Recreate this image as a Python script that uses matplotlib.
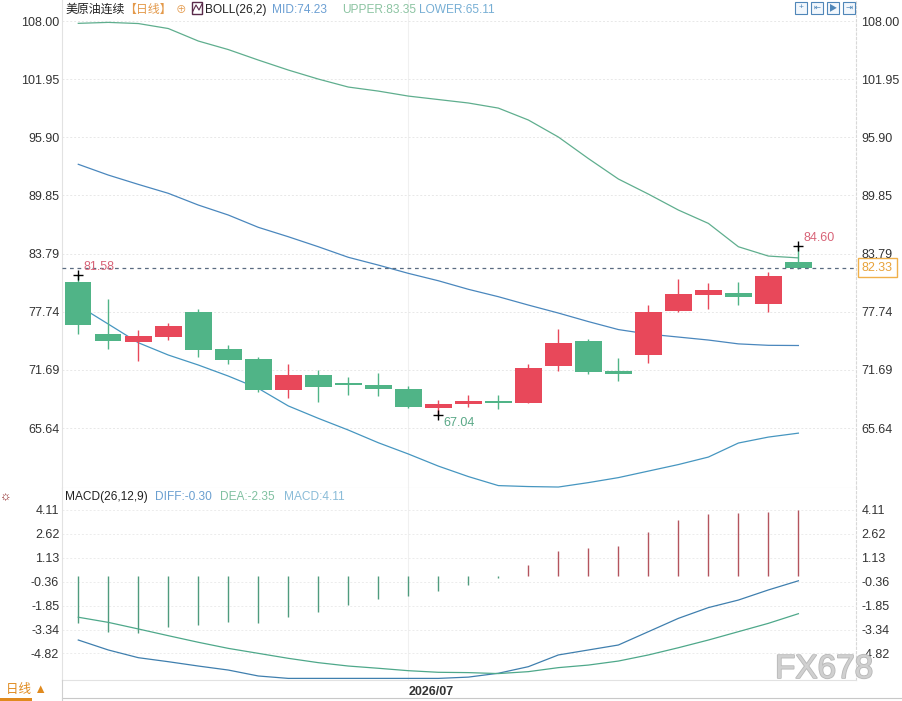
import matplotlib
matplotlib.use("Agg")
import matplotlib.pyplot as plt
from matplotlib.patches import Rectangle
from matplotlib.lines import Line2D
import matplotlib.patheffects as pe
import numpy as np
import pandas as pd

plt.rcParams['font.family'] = ['Liberation Sans', 'Noto Sans CJK SC', 'DejaVu Sans']

# ---- data ----
dates = pd.bdate_range('2026-06-16', periods=25)

opens = [80.84, 75.42, 74.62, 75.14, 77.71, 73.86, 72.82, 69.63, 71.16, 70.22, 70.11, 69.70, 67.75,
         68.17, 68.33, 68.27, 72.12, 74.69, 71.57, 73.24, 77.85, 79.48, 79.69, 78.58, 82.92]
closes = [76.39, 74.73, 75.21, 76.26, 73.79, 72.75, 69.63, 71.16, 69.94, 70.16, 69.73, 67.86, 68.14,
          68.45, 68.29, 71.92, 74.45, 71.50, 71.29, 77.71, 79.59, 80.00, 79.31, 81.46, 82.33]
highs = [81.58, 79.07, 75.84, 76.60, 77.99, 74.25, 73.03, 72.27, 71.71, 70.95, 71.36, 70.01, 68.52,
         69.07, 69.07, 72.27, 75.94, 74.93, 72.96, 78.41, 81.15, 80.76, 80.80, 81.91, 84.60]
lows = [75.42, 73.83, 72.64, 74.80, 73.06, 72.33, 69.42, 68.73, 68.35, 69.07, 68.97, 67.72, 67.04,
        67.86, 67.62, 68.20, 71.60, 71.26, 70.53, 72.44, 77.74, 78.02, 78.41, 77.74, 82.20]

boll_upper = [107.76, 107.86, 107.74, 107.22, 105.92, 105.03, 103.94, 102.90, 101.96, 101.13, 100.71,
              100.19, 99.83, 99.47, 98.94, 97.70, 95.93, 93.69, 91.56, 89.99, 88.33, 86.94, 84.51,
              83.54, 83.35]
boll_mid = [93.09, 91.97, 91.00, 90.07, 88.85, 87.81, 86.53, 85.55, 84.51, 83.41, 82.60, 81.74, 80.97,
            80.08, 79.31, 78.44, 77.61, 76.72, 75.89, 75.42, 75.11, 74.80, 74.40, 74.25, 74.23]
boll_lower = [78.39, 76.46, 74.52, 73.24, 72.20, 71.05, 69.77, 67.94, 66.65, 65.43, 64.11, 62.94, 61.68,
              60.59, 59.65, 59.55, 59.50, 59.96, 60.48, 61.16, 61.84, 62.62, 64.08, 64.70, 65.11]

macd_hist = [-2.95, -3.47, -3.53, -3.16, -3.05, -2.85, -2.91, -2.54, -2.22, -1.81, -1.41, -1.23, -0.92,
             -0.56, -0.10, 0.69, 1.56, 1.76, 1.89, 2.74, 3.51, 3.86, 3.93, 3.99, 4.11]
macd_dif = [-3.99, -4.61, -5.09, -5.34, -5.61, -5.86, -6.23, -6.38, -6.38, -6.38, -6.38, -6.38, -6.38,
            -6.30, -6.06, -5.65, -4.92, -4.61, -4.30, -3.47, -2.64, -1.97, -1.50, -0.87, -0.30]
macd_dea = [-2.57, -2.89, -3.30, -3.72, -4.13, -4.51, -4.82, -5.13, -5.40, -5.61, -5.75, -5.90, -6.00,
            -6.02, -6.08, -5.96, -5.71, -5.55, -5.30, -4.92, -4.47, -3.99, -3.47, -2.95, -2.35]

price_ticks = [108.00, 101.95, 95.90, 89.85, 83.79, 77.74, 71.69, 65.64]
macd_ticks = [4.11, 2.62, 1.13, -0.36, -1.85, -3.34, -4.82]

RED = '#e8485a'
GREEN = '#50b487'
TXT = '#333333'
HFS = 8.6  # header font size

W, H = 903, 701


def fx(px):
    return px / W


def fy(py):
    return 1 - py / H


fig = plt.figure(figsize=(W / 100, H / 100), dpi=100)
ax1 = fig.add_axes([fx(62), fy(488), (856 - 62) / W, 488 / H])
ax2 = fig.add_axes([fx(62), fy(680), (856 - 62) / W, 192 / H])

x = np.arange(len(opens))
o = np.array(opens)
c = np.array(closes)
cols = np.where(c >= o, RED, GREEN)
july = int(np.argmax(dates.month == 7))

for ax in (ax1, ax2):
    ax.set_xlim(-0.543, 25.92)
    ax.axvline(july, color='#f0f0f0', lw=0.8, zorder=0)
    for s in ax.spines.values():
        s.set_color('#e2e2e2')
        s.set_linewidth(0.8)
    ax.spines['top'].set_visible(False)
    ax.spines['right'].set_linestyle((0, (2, 2)))
    ax.spines['right'].set_color('#d8d8d8')

# ---- price panel ----
ax1.set_ylim(59.4, 110.19)
for t in price_ticks:
    ax1.axhline(t, color='#e8e8e8', lw=0.7, ls=(0, (2, 2)), zorder=0)

ax1.vlines(x, lows, highs, colors=cols, lw=1, zorder=3)
ax1.bar(x, np.maximum(np.abs(c - o), 0.12), bottom=np.minimum(o, c), width=0.88,
        color=cols, linewidth=0, zorder=4)

ax1.plot(x, boll_upper, color='#5fae8e', lw=0.9, zorder=2)
ax1.plot(x, boll_mid, color='#4a87bd', lw=0.9, zorder=2)
ax1.plot(x, boll_lower, color='#4696c0', lw=0.9, zorder=2)

ax1.axhline(closes[-1], color='#5a6b80', lw=0.9, ls=(0, (3, 3)), zorder=5)

# high / low markers
hi_idx = [0, len(highs) - 1]
for i in hi_idx:
    ax1.plot(i, highs[i], '+', color='k', ms=7, mew=1, zorder=6)
    ax1.annotate(f'{highs[i]:.2f}', (i, highs[i]), xytext=(3.6, 5.8), textcoords='offset points',
                 color='#d86478', fontsize=9, va='center', ha='left', zorder=6)
lo_idx = int(np.argmin(lows))
ax1.plot(lo_idx, lows[lo_idx], '+', color='k', ms=7, mew=1, zorder=6)
ax1.annotate(f'{lows[lo_idx]:.2f}', (lo_idx, lows[lo_idx]), xytext=(3.6, -5.8),
             textcoords='offset points', color='#5aa887', fontsize=9, va='center', ha='left', zorder=6)

ax1.set_yticks(price_ticks)
ax1.set_yticklabels([f'{t:.2f}' for t in price_ticks])
ax1.tick_params(axis='y', length=0, pad=2, labelsize=9, labelcolor=TXT)
ax1.tick_params(axis='x', length=0, labelbottom=False)

ax1r = ax1.twinx()
ax1r.set_ylim(ax1.get_ylim())
ax1r.set_yticks(price_ticks)
ax1r.set_yticklabels([f'{t:.2f}' for t in price_ticks])
ax1r.tick_params(axis='y', length=0, pad=4, labelsize=9, labelcolor=TXT)
for s in ax1r.spines.values():
    s.set_visible(False)

ax1.text((862 - 62) / 794, closes[-1], f'{closes[-1]:.2f}', transform=ax1.get_yaxis_transform(),
         color='#e8a23a', fontsize=9, va='center', ha='left', clip_on=False, zorder=7,
         bbox=dict(boxstyle='square,pad=0.3', fc='white', ec='#f0b04a', lw=1))

# ---- MACD panel ----
ax2.set_ylim(-6.48, 5.48)
for t in macd_ticks:
    ax2.axhline(t, color='#ececec', lw=0.7, ls=(0, (2, 2)), zorder=0)
h = np.array(macd_hist)
ax2.vlines(x, 0, h, colors=np.where(h >= 0, '#b4545e', '#4f9c7e'), lw=1.0, zorder=3)
ax2.plot(x, macd_dif, color='#3f7fae', lw=0.9, zorder=4)
ax2.plot(x, macd_dea, color='#4ea88a', lw=0.9, zorder=4)

ax2.set_yticks(macd_ticks)
ax2.set_yticklabels([f'{t:.2f}' for t in macd_ticks])
ax2.tick_params(axis='y', length=0, pad=2, labelsize=9, labelcolor=TXT)
ax2.set_xticks([july])
ax2.set_xticklabels([dates[july].strftime('%Y/%m')], ha='left', fontweight='bold',
                    fontsize=9, color=TXT)
ax2.tick_params(axis='x', length=0, pad=4)

ax2r = ax2.twinx()
ax2r.set_ylim(ax2.get_ylim())
ax2r.set_yticks(macd_ticks)
ax2r.set_yticklabels([f'{t:.2f}' for t in macd_ticks])
ax2r.tick_params(axis='y', length=0, pad=4, labelsize=9, labelcolor=TXT)
for s in ax2r.spines.values():
    s.set_visible(False)

# ---- header texts ----
ty = fy(10)
fig.text(fx(65), ty, '美原油连续', color='#222222', fontsize=HFS, va='center')
fig.text(fx(124), ty, '【日线】', color='#e3994a', fontsize=HFS, va='center')
fig.text(fx(176), ty, '⊕', color='#e3994a', fontsize=HFS - 1, va='center')
fig.add_artist(Rectangle((fx(192), fy(14)), 10 / W, 12 / H, transform=fig.transFigure,
                         fill=False, ec='#5a2a4a', lw=1))
fig.add_artist(Line2D([fx(193), fx(196), fx(199), fx(202)], [fy(11), fy(5), fy(10), fy(4)],
                      transform=fig.transFigure, color='#5a2a4a', lw=0.8))
fig.text(fx(205), ty, 'BOLL(26,2)', color='#222222', fontsize=HFS, va='center')
fig.text(fx(272), ty, f'MID:{boll_mid[-1]:.2f}', color='#6b9fd3', fontsize=HFS, va='center')
fig.text(fx(342), ty, f'UPPER:{boll_upper[-1]:.2f}', color='#8cc4a2', fontsize=HFS, va='center')
fig.text(fx(419), ty, f'LOWER:{boll_lower[-1]:.2f}', color='#76aed4', fontsize=HFS, va='center')

my = fy(497)
fig.text(fx(0), my, '☼', color='#8a2020', fontsize=9, va='center')
fig.text(fx(65), my, 'MACD(26,12,9)', color='#222222', fontsize=HFS, va='center')
fig.text(fx(155), my, f'DIFF:{macd_dif[-1]:.2f}', color='#6a9fd0', fontsize=HFS, va='center')
fig.text(fx(220), my, f'DEA:{macd_dea[-1]:.2f}', color='#80c0a0', fontsize=HFS, va='center')
fig.text(fx(284), my, f'MACD:{macd_hist[-1]:.2f}', color='#8abcd8', fontsize=HFS, va='center')

# toolbar icons top right
glyphs = ['+', '⇤', '▶', '⇥']
for k, x0 in enumerate([795, 811, 827, 843]):
    fig.add_artist(Rectangle((fx(x0), fy(14)), 12 / W, 12 / H, transform=fig.transFigure,
                             fc='#f2f7fc', ec='#4f86b8', lw=0.8))
    fig.text(fx(x0 + 6), fy(8), glyphs[k], color='#4f86b8', fontsize=6, ha='center', va='center')

# bottom strip
fig.add_artist(Line2D([fx(62), 1], [fy(698), fy(698)], transform=fig.transFigure,
                      color='#c8c8c8', lw=0.8))
fig.add_artist(Line2D([fx(62), fx(62)], [fy(680), fy(701)], transform=fig.transFigure,
                      color='#d0d0d0', lw=0.8))
fig.add_artist(Rectangle((0, 0), 32 / W, 3 / H, transform=fig.transFigure, fc='#e08a1e', ec='none'))
fig.text(fx(6), fy(690), '日线 ▲', color='#e08a1e', fontsize=9, va='center')

fig.text(fx(775), fy(678), 'FX678', fontsize=24, color='#d0d0d0', va='baseline', ha='left',
         path_effects=[pe.withStroke(linewidth=1.2, foreground='#b8b8b8')])

fig.savefig('out.png', dpi=100)
